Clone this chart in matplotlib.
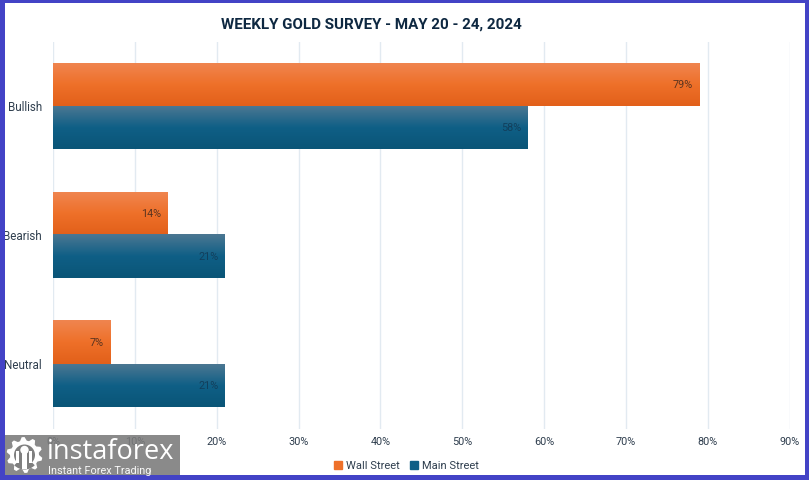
import numpy as np
import matplotlib
matplotlib.use('Agg')
import matplotlib.pyplot as plt
from matplotlib.colors import LinearSegmentedColormap
from matplotlib.patches import Rectangle, Circle, Polygon, Wedge

# Data
categories = ['Bullish', 'Bearish', 'Neutral']
wall_street = [79, 14, 7]
main_street = [58, 21, 21]
xticks = [0, 10, 20, 30, 40, 50, 60, 70, 80, 90]

W, H = 809, 480
FRAME = '#4343c6'
TEXT = '#2f3e4e'
NAVY = '#0e2841'

plt.rcParams['font.family'] = ['Roboto', 'DejaVu Sans']

fig = plt.figure(figsize=(W/100, H/100), dpi=100, facecolor='white')

def px_rect(x0, y0, x1, y1):
  # pixel box, y counted from the top of the image
  return [x0/W, 1 - y1/H, (x1-x0)/W, (y1-y0)/H]

ax = fig.add_axes(px_rect(53, 41.5, 789.5, 428.5))

cm_wall = LinearSegmentedColormap.from_list('wall', ['#f0854f', '#ee7029', '#e2601a'])
cm_main = LinearSegmentedColormap.from_list('main', ['#4b7792', '#0f5f86', '#0a5577'])
grad = np.linspace(0, 1, 64).reshape(-1, 1)

def gradient_bars(values, centers, height, cmap):
  for v, c in zip(values, centers):
    ax.imshow(grad, cmap=cmap, aspect='auto', zorder=2, interpolation='bilinear',
              extent=(0, v, c + height/2, c - height/2))

pos = np.arange(len(categories))
bar_h = 1/3

gradient_bars(wall_street, pos - bar_h/2, bar_h, cm_wall)
gradient_bars(main_street, pos + bar_h/2, bar_h, cm_main)

for v, c in zip(wall_street, pos - bar_h/2):
  ax.text(v - 0.8, c, f'{v}%', ha='right', va='center', fontsize=7.8, color='#5a3420', zorder=4)
for v, c in zip(main_street, pos + bar_h/2):
  ax.text(v - 0.8, c, f'{v}%', ha='right', va='center', fontsize=7.8, color='#123f5c', zorder=4)

ax.set_xlim(0, 90)
ax.set_ylim(len(categories) - 0.5, -0.5)
ax.set_xticks(xticks)
ax.set_xticklabels([f'{t}%' for t in xticks], fontsize=7.8, color=TEXT)
ax.set_yticks(pos)
ax.set_yticklabels(categories, fontsize=8.4, color=TEXT)
ax.tick_params(length=0)
ax.tick_params(axis='x', pad=6)
ax.tick_params(axis='y', pad=8)
ax.grid(axis='x', color='#e2eaf1', lw=1.0, zorder=0)
ax.set_axisbelow(True)
for s in ax.spines.values():
  s.set_visible(False)

fig.text(371/W, 1 - 25/H, 'WEEKLY GOLD SURVEY - MAY 20 - 24, 2024', ha='center', va='center',
         fontsize=10.9, fontweight='bold', color=NAVY)

# Legend
handles = [Rectangle((0, 0), 1, 1, color='#ee7029'), Rectangle((0, 0), 1, 1, color='#0f5f86')]
fig.legend(handles, ['Wall Street', 'Main Street'], loc='center', bbox_to_anchor=(406.5/W, 1 - 466/H),
           ncol=2, frameon=False, fontsize=8, labelcolor=TEXT, handlelength=0.75, handleheight=0.75,
           handletextpad=0.35, columnspacing=0.9, borderpad=0)

# Overlay in pixel coordinates, y down
ov = fig.add_axes([0, 0, 1, 1], facecolor='none', zorder=10)
ov.set_xlim(0, W)
ov.set_ylim(H, 0)
ov.axis('off')

# Frame
ov.add_patch(Rectangle((0, 0), 5, H, color=FRAME, lw=0))
ov.add_patch(Rectangle((805, 0), 4, H, color=FRAME, lw=0))
ov.add_patch(Rectangle((0, 0), W, 3, color=FRAME, lw=0))
ov.add_patch(Rectangle((0, 475), W, 5, color=FRAME, lw=0))

# Watermark box
ov.add_patch(Rectangle((5, 435), 175, 40, color='#7a7a7a', alpha=0.88, lw=0))

# Gear
gx, gy = 24.5, 455
teeth = 10
angles = np.linspace(0, 2*np.pi, teeth*4, endpoint=False) + np.pi/teeth/2
radii = np.tile([18, 18, 14.5, 14.5], teeth)
ov.add_patch(Polygon(np.c_[gx + radii*np.cos(angles), gy + radii*np.sin(angles)], color='white', lw=0))
ov.add_patch(Circle((gx, gy), 10.5, color='#7f7f7f', lw=0))
ov.add_patch(Wedge((gx, gy), 14.5, 45, 135, color='#7f7f7f', lw=0))
ov.add_patch(Circle((gx, gy - 5), 4.2, color='white', lw=0))
ov.add_patch(Rectangle((gx - 2.2, gy - 3), 4.4, 17, color='white', lw=0))
ov.add_patch(Rectangle((gx - 8, gy - 4), 3, 12, color='white', lw=0))
ov.add_patch(Rectangle((gx + 5, gy - 4), 3, 12, color='white', lw=0))

ov.text(47, 452, 'instaforex', fontsize=19.5, color='white', ha='left', va='center',
        family=['Open Sans', 'DejaVu Sans'])
ov.text(48, 471, 'Instant Forex Trading', fontsize=7.8, color='white', ha='left', va='center', alpha=0.95)

fig.savefig('out.png', dpi=100)
